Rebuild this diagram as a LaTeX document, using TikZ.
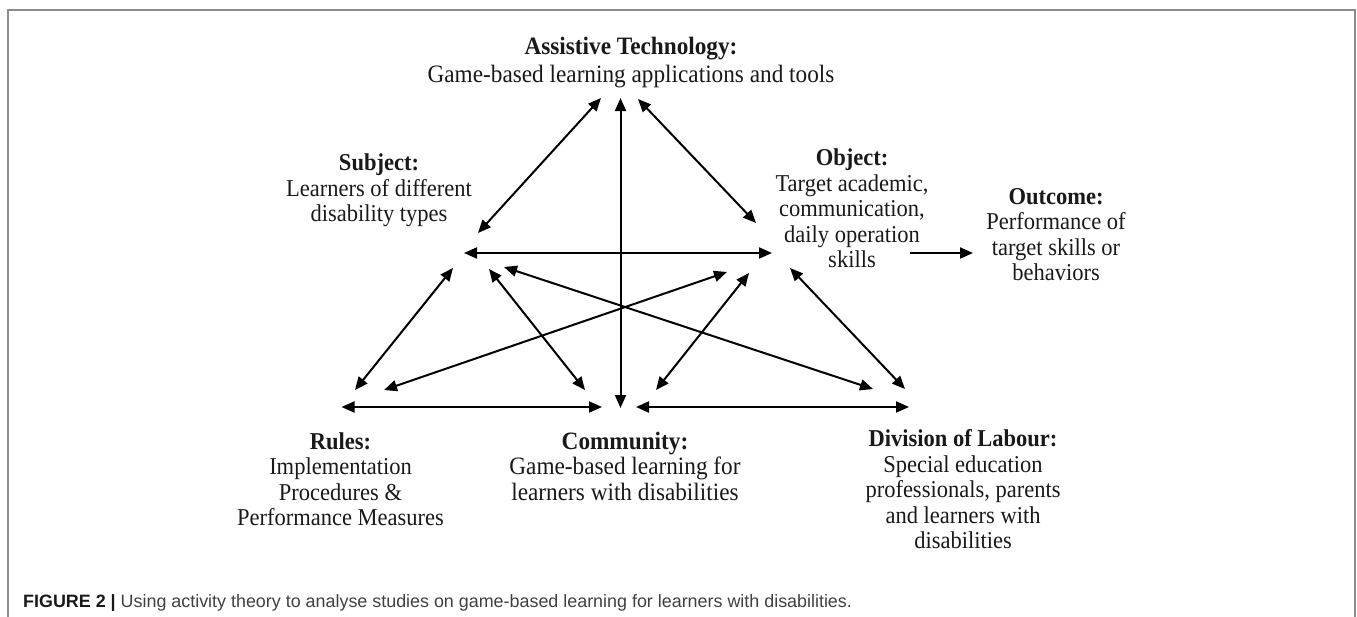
\documentclass[tikz,border=0pt]{standalone}
\usepackage{fontspec}
\setmainfont{Liberation Serif}[FakeStretch=0.93]
\newfontfamily\capfont{Liberation Sans}
\usetikzlibrary{arrows.meta}
\begin{document}
\begin{tikzpicture}[x=1pt,y=-1pt,
  lbl/.style={align=center,inner sep=0pt,font=\fontsize{24.2}{25.5}\selectfont,text=black!90},
  link/.style={line width=2pt,{Triangle[length=13pt,width=11pt]}-{Triangle[length=13pt,width=11pt]}},
  oneway/.style={line width=2pt,-{Triangle[length=13pt,width=11pt]}}]
\useasboundingbox (0,0) rectangle (1357,616);
\draw[line width=2pt,color=black!45] (8,625) -- (8,10) -- (1355,10) -- (1355,625);

% text blocks
\node[lbl,font=\fontsize{25}{28}\selectfont] (at) at (631,63) {\textbf{Assistive Technology:}\\Game-based learning applications and tools};
\node[lbl] (subj) at (379,190.5) {\textbf{Subject:}\\Learners of different\\disability types};
\node[lbl] (obj) at (852,208.5) {\textbf{Object:}\\Target academic,\\communication,\\daily operation\\skills};
\node[lbl] (out) at (1056,234.5) {\textbf{Outcome:}\\Performance of\\target skills or\\behaviors};
\node[lbl] (rules) at (340.5,479) {\textbf{Rules:}\\Implementation\\Procedures \&\\Performance Measures};
\node[lbl,font=\fontsize{25}{25.5}\selectfont] (comm) at (625,466) {\textbf{Community:}\\Game-based learning for\\learners with disabilities};
\node[lbl] (div) at (963,489.5) {\textbf{Division of Labour:}\\Special education\\professionals, parents\\and learners with\\disabilities};

% connector ends
\coordinate (AT-s) at (601,98);   \coordinate (S-at) at (478,233);
\coordinate (AT-c) at (620.5,98); \coordinate (C-at) at (620.5,408);
\coordinate (AT-o) at (638,99);   \coordinate (O-at) at (756,223);
\coordinate (S-o) at (464,253);   \coordinate (O-s) at (772,253);
\coordinate (O-out) at (910,253); \coordinate (Out-o) at (973,253);
\coordinate (R-s) at (355,390);   \coordinate (S-r) at (453,268);
\coordinate (R-o) at (384,390);   \coordinate (O-r) at (727,272);
\coordinate (C-s) at (585,390);   \coordinate (S-c) at (489,269);
\coordinate (C-o) at (656,390);   \coordinate (O-c) at (749,273);
\coordinate (D-s) at (873,389);   \coordinate (S-d) at (504,267);
\coordinate (D-o) at (905,389);   \coordinate (O-d) at (790,268);
\coordinate (R-c) at (341.5,407); \coordinate (C-r) at (602,407);
\coordinate (C-d) at (636,407);   \coordinate (D-c) at (909,407);

% connectors
\draw[link] (AT-s) -- (S-at);
\draw[link] (AT-c) -- (C-at);
\draw[link] (AT-o) -- (O-at);
\draw[link] (S-o) -- (O-s);
\draw[oneway] (O-out) -- (Out-o);
\draw[link] (R-s) -- (S-r);
\draw[link] (R-o) -- (O-r);
\draw[link] (C-s) -- (S-c);
\draw[link] (C-o) -- (O-c);
\draw[link] (D-s) -- (S-d);
\draw[link] (D-o) -- (O-d);
\draw[link] (R-c) -- (C-r);
\draw[link] (C-d) -- (D-c);

% caption
\node[anchor=base west,inner sep=0pt,font=\capfont\fontsize{17.9}{20}\selectfont,text=black!75] (cap) at (23,607)
  {{\color{black!90}\bfseries FIGURE 2 |} Using activity theory to analyse studies on game-based learning for learners with disabilities.};
\end{tikzpicture}
\end{document}
